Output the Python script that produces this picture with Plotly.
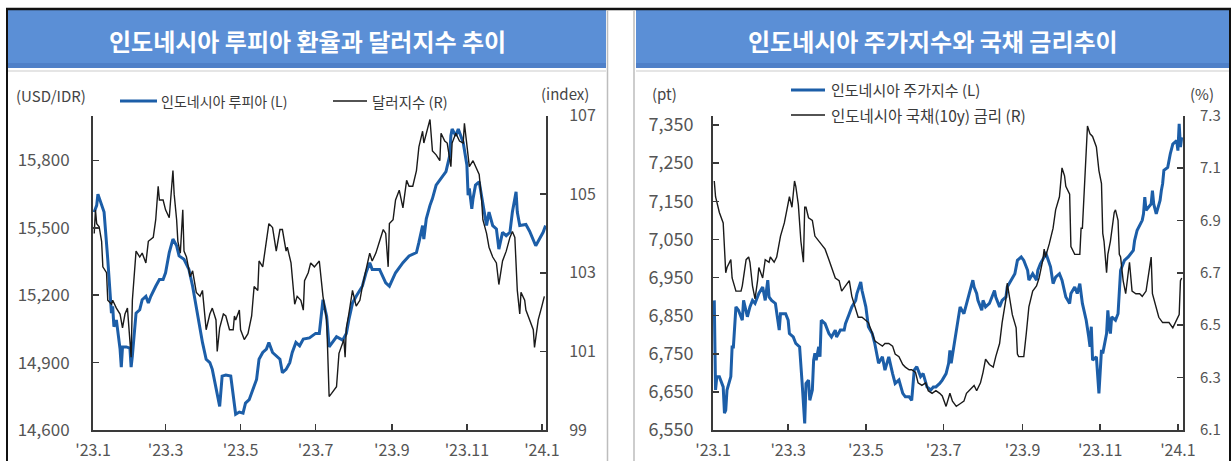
import plotly.graph_objects as go

# ---------------- data ----------------
idr_dates = ["2023-01-02","2023-01-04","2023-01-05","2023-01-08","2023-01-10","2023-01-13","2023-01-15","2023-01-16","2023-01-17","2023-01-18",
 "2023-01-20","2023-01-23","2023-01-24","2023-01-25","2023-01-28","2023-01-31","2023-02-01","2023-02-02","2023-02-05","2023-02-08",
 "2023-02-10","2023-02-13","2023-02-15","2023-02-17","2023-02-21","2023-02-24","2023-02-27","2023-03-01","2023-03-04","2023-03-07",
 "2023-03-10","2023-03-12","2023-03-16","2023-03-20","2023-03-23","2023-03-26","2023-03-29","2023-03-31","2023-04-03","2023-04-06",
 "2023-04-08","2023-04-11","2023-04-14","2023-04-16","2023-04-19","2023-04-23","2023-04-26","2023-04-27","2023-04-30","2023-05-03",
 "2023-05-05","2023-05-08","2023-05-11","2023-05-14","2023-05-16","2023-05-19","2023-05-22","2023-05-24","2023-05-27","2023-05-30",
 "2023-06-02","2023-06-04","2023-06-07","2023-06-10","2023-06-12","2023-06-15","2023-06-18","2023-06-21","2023-06-26","2023-07-01",
 "2023-07-04","2023-07-07","2023-07-10","2023-07-12","2023-07-18","2023-07-23","2023-07-26","2023-07-28","2023-07-31","2023-08-03",
 "2023-08-08","2023-08-11","2023-08-14","2023-08-16","2023-08-22","2023-08-27","2023-08-30","2023-09-04","2023-09-10","2023-09-15",
 "2023-09-21","2023-09-23","2023-09-26","2023-09-27","2023-09-29","2023-10-02","2023-10-04","2023-10-07","2023-10-12","2023-10-15",
 "2023-10-18","2023-10-19","2023-10-20","2023-10-23","2023-10-25","2023-10-26","2023-10-29","2023-11-01","2023-11-02","2023-11-03",
 "2023-11-05","2023-11-06","2023-11-08","2023-11-11","2023-11-14","2023-11-17","2023-11-19","2023-11-22","2023-11-25","2023-11-27",
 "2023-11-30","2023-12-03","2023-12-06","2023-12-08","2023-12-11","2023-12-12","2023-12-14","2023-12-19","2023-12-22","2023-12-27",
 "2023-12-30","2024-01-02","2024-01-04"]
idr_values = [15570,15600,15650,15600,15570,15360,15180,15120,15150,15060,
 15090,14960,14880,14970,14970,14965,14880,14930,15120,15135,
 15180,15195,15165,15195,15240,15270,15270,15300,15390,15450,
 15420,15375,15360,15315,15240,15150,15045,14990,14915,14900,
 14870,14795,14705,14840,14845,14840,14705,14670,14680,14675,
 14720,14735,14780,14825,14915,14945,14960,14990,14945,14930,
 14915,14855,14870,14900,14945,14990,14975,15005,15010,15030,
 15030,15180,15105,14970,15015,15000,15030,15090,15165,15195,
 15240,15300,15345,15315,15315,15255,15240,15300,15345,15375,
 15390,15435,15510,15450,15540,15600,15630,15690,15725,15750,
 15820,15910,15940,15910,15940,15925,15880,15780,15645,15675,
 15585,15630,15690,15705,15615,15510,15570,15510,15495,15405,
 15480,15465,15480,15570,15660,15570,15510,15515,15485,15420,
 15450,15480,15510]

dxy_dates = ["2023-01-02","2023-01-03","2023-01-04","2023-01-06","2023-01-08","2023-01-09","2023-01-12","2023-01-13","2023-01-16","2023-01-17",
 "2023-01-20","2023-01-23","2023-01-25","2023-01-27","2023-01-29","2023-01-31","2023-02-01","2023-02-02","2023-02-04","2023-02-05",
 "2023-02-08","2023-02-10","2023-02-13","2023-02-15","2023-02-19","2023-02-21","2023-02-23","2023-02-24","2023-02-27","2023-03-01",
 "2023-03-04","2023-03-07","2023-03-08","2023-03-10","2023-03-11","2023-03-13","2023-03-15","2023-03-16","2023-03-18","2023-03-21",
 "2023-03-23","2023-03-26","2023-03-29","2023-03-31","2023-04-03","2023-04-06","2023-04-08","2023-04-11","2023-04-12","2023-04-14",
 "2023-04-17","2023-04-19","2023-04-22","2023-04-25","2023-04-26","2023-04-27","2023-04-30","2023-05-01","2023-05-04","2023-05-07",
 "2023-05-10","2023-05-12","2023-05-15","2023-05-16","2023-05-19","2023-05-22","2023-05-24","2023-05-27","2023-05-30","2023-06-02",
 "2023-06-04","2023-06-07","2023-06-08","2023-06-11","2023-06-14","2023-06-16","2023-06-19","2023-06-21","2023-06-22","2023-06-25",
 "2023-06-27","2023-06-30","2023-07-04","2023-07-05","2023-07-07","2023-07-10","2023-07-11","2023-07-12","2023-07-14","2023-07-18",
 "2023-07-20","2023-07-24","2023-07-25","2023-07-26","2023-07-28","2023-07-31","2023-08-03","2023-08-06","2023-08-08","2023-08-11",
 "2023-08-14","2023-08-16","2023-08-19","2023-08-22","2023-08-25","2023-08-27","2023-08-29","2023-08-30","2023-09-02","2023-09-04",
 "2023-09-07","2023-09-10","2023-09-13","2023-09-15","2023-09-18","2023-09-21","2023-09-23","2023-09-26","2023-09-27","2023-10-02",
 "2023-10-04","2023-10-07","2023-10-10","2023-10-11","2023-10-14","2023-10-16","2023-10-19","2023-10-20","2023-10-23","2023-10-26",
 "2023-10-29","2023-10-30","2023-11-01","2023-11-03","2023-11-06","2023-11-08","2023-11-11","2023-11-13","2023-11-14","2023-11-17",
 "2023-11-19","2023-11-22","2023-11-25","2023-11-27","2023-11-30","2023-12-03","2023-12-06","2023-12-08","2023-12-10","2023-12-12",
 "2023-12-14","2023-12-15","2023-12-18","2023-12-19","2023-12-22","2023-12-25","2023-12-26","2023-12-29","2024-01-01","2024-01-03"]
dxy_values = [104.0,104.6,104.25,104.17,103.8,103.15,103.0,102.3,102.2,102.3,
 102.1,101.95,101.6,101.95,102.1,101.2,100.85,102.3,103.15,103.55,
 103.4,103.5,103.25,103.8,103.9,104.35,105.2,104.85,104.85,104.6,
 104.4,105.6,105.0,104.35,103.8,103.5,104.6,103.55,103.4,102.9,
 103.05,102.5,102.4,102.55,101.55,101.95,102.1,101.8,101.0,101.6,
 101.95,101.9,101.55,101.55,101.9,101.8,102.05,101.55,101.3,101.45,
 101.9,102.65,102.55,103.3,103.15,103.8,104.25,104.15,103.55,104.1,
 104.1,103.55,103.65,103.25,102.2,102.4,102.3,102.05,102.8,103.0,
 103.25,103.15,103.3,103.0,102.4,101.8,100.8,99.85,99.93,100.1,
 100.95,101.3,100.85,101.6,101.95,102.55,102.15,102.3,102.65,103.05,
 103.5,103.3,103.5,103.8,104.1,104.0,103.15,104.25,104.35,104.85,
 105.1,104.65,105.35,105.2,105.2,105.6,106.2,106.6,106.3,106.9,
 106.1,106.0,105.85,106.55,106.35,106.3,105.7,106.3,106.55,106.35,
 106.3,106.8,106.3,105.7,105.85,105.7,105.5,104.85,104.35,104.0,
 103.65,103.4,103.25,102.7,103.3,103.55,103.9,104.05,103.9,102.55,
 101.95,102.5,102.3,102.05,101.8,101.55,101.1,101.8,102.15,102.4]

jci_dates = ["2023-01-02","2023-01-03","2023-01-04","2023-01-06","2023-01-09","2023-01-10","2023-01-11","2023-01-12","2023-01-15","2023-01-16",
 "2023-01-17","2023-01-19","2023-01-21","2023-01-24","2023-01-25","2023-01-28","2023-01-30","2023-02-01","2023-02-03","2023-02-06",
 "2023-02-09","2023-02-11","2023-02-13","2023-02-14","2023-02-16","2023-02-19","2023-02-22","2023-02-23","2023-02-27","2023-03-01",
 "2023-03-02","2023-03-05","2023-03-07","2023-03-10","2023-03-12","2023-03-13","2023-03-14","2023-03-15","2023-03-17","2023-03-18",
 "2023-03-20","2023-03-21","2023-03-22","2023-03-23","2023-03-25","2023-03-26","2023-03-27","2023-03-30","2023-04-02","2023-04-04",
 "2023-04-07","2023-04-08","2023-04-11","2023-04-14","2023-04-15","2023-04-18","2023-04-20","2023-04-23","2023-04-24","2023-04-27",
 "2023-04-28","2023-05-01","2023-05-03","2023-05-06","2023-05-08","2023-05-11","2023-05-14","2023-05-16","2023-05-19","2023-05-22",
 "2023-05-24","2023-05-27","2023-05-30","2023-06-01","2023-06-04","2023-06-06","2023-06-08","2023-06-10","2023-06-13","2023-06-15",
 "2023-06-18","2023-06-21","2023-06-23","2023-06-25","2023-06-28","2023-06-30","2023-07-03","2023-07-05","2023-07-06","2023-07-07",
 "2023-07-09","2023-07-11","2023-07-13","2023-07-14","2023-07-17","2023-07-19","2023-07-21","2023-07-24","2023-07-25","2023-07-27",
 "2023-07-28","2023-07-31","2023-08-01","2023-08-03","2023-08-06","2023-08-08","2023-08-10","2023-08-11","2023-08-14","2023-08-16",
 "2023-08-19","2023-08-20","2023-08-23","2023-08-26","2023-08-28","2023-08-31","2023-09-02","2023-09-05","2023-09-06","2023-09-09",
 "2023-09-12","2023-09-13","2023-09-15","2023-09-18","2023-09-19","2023-09-21","2023-09-23","2023-09-25","2023-09-27","2023-09-30",
 "2023-10-02","2023-10-05","2023-10-08","2023-10-09","2023-10-12","2023-10-14","2023-10-16","2023-10-18","2023-10-21","2023-10-23",
 "2023-10-24","2023-10-25","2023-10-26","2023-10-29","2023-10-30","2023-10-31","2023-11-02","2023-11-03","2023-11-06","2023-11-07",
 "2023-11-08","2023-11-09","2023-11-10","2023-11-13","2023-11-15","2023-11-16","2023-11-17","2023-11-20","2023-11-23","2023-11-27",
 "2023-11-28","2023-11-30","2023-12-04","2023-12-05","2023-12-06","2023-12-07","2023-12-11","2023-12-12","2023-12-13","2023-12-15",
 "2023-12-18","2023-12-19","2023-12-20","2023-12-21","2023-12-24","2023-12-26","2023-12-28","2023-12-31","2024-01-01","2024-01-02",
 "2024-01-03","2024-01-04"]
jci_values = [6890,6655,6690,6690,6663,6594,6602,6655,6690,6768,
 6768,6873,6864,6838,6890,6847,6873,6890,6882,6908,
 6925,6890,6943,6899,6890,6882,6812,6855,6855,6838,
 6803,6794,6777,6768,6672,6611,6567,6672,6681,6628,
 6655,6733,6751,6733,6768,6742,6838,6829,6803,6794,
 6812,6794,6812,6812,6829,6855,6873,6890,6908,6938,
 6916,6873,6821,6803,6777,6725,6742,6707,6742,6698,
 6672,6681,6646,6637,6637,6628,6707,6716,6690,6698,
 6663,6655,6663,6663,6672,6681,6698,6725,6759,6725,
 6768,6812,6855,6873,6855,6882,6908,6943,6925,6908,
 6890,6864,6890,6873,6882,6899,6916,6899,6873,6890,
 6899,6925,6943,6960,6995,7004,6995,6969,6943,6960,
 6943,6969,6986,7004,7017,6995,6978,6934,6951,6960,
 6943,6899,6882,6908,6925,6908,6934,6882,6838,6794,
 6768,6821,6733,6742,6690,6646,6760,6751,6803,6864,
 6821,6803,6847,6838,6855,6908,6969,6995,7004,7021,
 7047,7074,7100,7117,7161,7126,7143,7178,7143,7117,
 7152,7178,7196,7231,7239,7274,7300,7309,7283,7353,
 7292,7318]

yld_dates = ["2023-01-02","2023-01-03","2023-01-06","2023-01-09","2023-01-11","2023-01-12","2023-01-15","2023-01-16","2023-01-19","2023-01-23",
 "2023-01-24","2023-01-27","2023-01-29","2023-01-30","2023-02-01","2023-02-03","2023-02-05","2023-02-06","2023-02-09","2023-02-11",
 "2023-02-14","2023-02-15","2023-02-18","2023-02-20","2023-02-23","2023-02-26","2023-02-28","2023-03-02","2023-03-04","2023-03-06",
 "2023-03-07","2023-03-09","2023-03-11","2023-03-13","2023-03-14","2023-03-15","2023-03-17","2023-03-20","2023-03-22","2023-03-25",
 "2023-03-27","2023-03-30","2023-04-02","2023-04-04","2023-04-07","2023-04-10","2023-04-12","2023-04-15","2023-04-18","2023-04-20",
 "2023-04-23","2023-04-25","2023-04-28","2023-05-01","2023-05-03","2023-05-06","2023-05-08","2023-05-11","2023-05-14","2023-05-16",
 "2023-05-19","2023-05-22","2023-05-24","2023-05-27","2023-05-30","2023-06-01","2023-06-04","2023-06-06","2023-06-09","2023-06-11",
 "2023-06-14","2023-06-17","2023-06-19","2023-06-22","2023-06-25","2023-06-28","2023-06-30","2023-07-03","2023-07-06","2023-07-08",
 "2023-07-11","2023-07-14","2023-07-17","2023-07-19","2023-07-21","2023-07-25","2023-07-27","2023-07-30","2023-08-01","2023-08-03",
 "2023-08-06","2023-08-09","2023-08-11","2023-08-14","2023-08-16","2023-08-19","2023-08-20","2023-08-22","2023-08-24","2023-08-27",
 "2023-08-28","2023-08-29","2023-09-02","2023-09-04","2023-09-06","2023-09-09","2023-09-12","2023-09-14","2023-09-17","2023-09-18",
 "2023-09-19","2023-09-22","2023-09-25","2023-09-27","2023-09-30","2023-10-02","2023-10-04","2023-10-05","2023-10-08","2023-10-09",
 "2023-10-12","2023-10-16","2023-10-17","2023-10-18","2023-10-20","2023-10-22","2023-10-24","2023-10-26","2023-10-29","2023-10-31",
 "2023-11-02","2023-11-03","2023-11-04","2023-11-06","2023-11-07","2023-11-09","2023-11-12","2023-11-13","2023-11-15","2023-11-16",
 "2023-11-17","2023-11-19","2023-11-21","2023-11-24","2023-11-26","2023-11-29","2023-12-02","2023-12-04","2023-12-07","2023-12-11",
 "2023-12-12","2023-12-15","2023-12-17","2023-12-20","2023-12-23","2023-12-25","2023-12-28","2023-12-30","2024-01-02","2024-01-03",
 "2024-01-04"]
yld_values = [7.05,6.99,6.93,6.89,6.70,6.72,6.75,6.68,6.63,6.63,
 6.65,6.75,6.76,6.74,6.65,6.60,6.67,6.72,6.68,6.75,
 6.74,6.76,6.74,6.76,6.84,6.89,6.94,6.99,6.95,7.05,
 7.03,6.96,6.82,6.74,6.95,6.95,6.91,6.90,6.84,6.82,
 6.81,6.79,6.75,6.72,6.68,6.67,6.63,6.65,6.67,6.61,
 6.56,6.53,6.53,6.52,6.51,6.47,6.44,6.43,6.42,6.43,
 6.43,6.42,6.39,6.38,6.35,6.34,6.33,6.33,6.32,6.28,
 6.27,6.28,6.25,6.24,6.25,6.24,6.23,6.19,6.24,6.21,
 6.19,6.20,6.21,6.24,6.25,6.27,6.25,6.28,6.32,6.37,
 6.35,6.34,6.38,6.43,6.51,6.60,6.66,6.60,6.54,6.49,
 6.39,6.38,6.38,6.47,6.57,6.63,6.65,6.68,6.75,6.79,
 6.76,6.81,6.87,6.94,6.99,7.10,7.07,7.03,7.00,6.80,
 6.77,6.77,6.87,6.87,7.09,7.26,7.23,7.22,7.18,7.09,
 7.04,6.85,6.82,6.70,6.77,6.82,6.93,6.94,6.90,6.77,
 6.76,6.67,6.62,6.74,6.63,6.62,6.62,6.61,6.63,6.76,
 6.62,6.57,6.53,6.51,6.51,6.51,6.49,6.51,6.54,6.67,
 6.68]

x_tickvals = ["2023-01-01","2023-03-01","2023-05-01","2023-07-01","2023-09-01","2023-11-01","2024-01-01"]
x_ticktext = ["'23.1","'23.3","'23.5","'23.7","'23.9","'23.11","'24.1"]
idr_ticks = [14600,14900,15200,15500,15800]
dxy_ticks = [99,101,103,105,107]
jci_ticks = [6550,6650,6750,6850,6950,7050,7150,7250,7350]
yld_ticks = [6.1,6.3,6.5,6.7,6.9,7.1,7.3]

title_left = "인도네시아 루피아 환율과 달러지수 추이"
title_right = "인도네시아 주가지수와 국채 금리추이"
legend_left = ["인도네시아 루피아 (L)", "달러지수 (R)"]
legend_right = ["인도네시아 주가지수 (L)", "인도네시아 국채(10y) 금리 (R)"]

# ---------------- style ----------------
W, H = 1232, 461
FONT = "Noto Sans CJK KR"
BLUE = "#1c5ea8"
BLACK = "#1a1a1a"
AXC = "#3a3a3a"
TXT = "#555555"
BANNER = "#5b8fd6"

def fx(px):
    return px / W

def fy(py):
    return 1 - py / H

fig = go.Figure()
fig.add_trace(go.Scatter(x=idr_dates, y=idr_values, mode="lines", line=dict(color=BLUE, width=3),
                         xaxis="x", yaxis="y", hoverinfo="skip"))
fig.add_trace(go.Scatter(x=dxy_dates, y=dxy_values, mode="lines", line=dict(color=BLACK, width=1.4),
                         xaxis="x", yaxis="y2", hoverinfo="skip"))
fig.add_trace(go.Scatter(x=yld_dates, y=yld_values, mode="lines", line=dict(color=BLACK, width=1.4),
                         xaxis="x2", yaxis="y4", hoverinfo="skip"))
fig.add_trace(go.Scatter(x=jci_dates, y=jci_values, mode="lines", line=dict(color=BLUE, width=3),
                         xaxis="x2", yaxis="y3", hoverinfo="skip"))

ydom = [fy(430), fy(115.5)]
common = dict(showgrid=False, zeroline=False, showline=True, linecolor=AXC, linewidth=2,
              ticks="inside", ticklen=6, tickwidth=1.5, tickcolor=AXC, automargin=False)

xcommon = dict(common, type="date", tickvals=x_tickvals, ticktext=x_ticktext,
               tickfont=dict(size=16, color=TXT, family=FONT), ticklabelstandoff=5)

fig.update_layout(
    width=W, height=H, autosize=False,
    margin=dict(l=0, r=0, t=0, b=0, pad=0, autoexpand=False),
    paper_bgcolor="white", plot_bgcolor="rgba(0,0,0,0)", showlegend=False,
    font=dict(family=FONT, color=TXT),
    xaxis=dict(xcommon, domain=[fx(93), fx(546)], anchor="y",
               range=["2023-01-01", "2024-01-04 08:00"]),
    yaxis=dict(common, domain=ydom, anchor="x", range=[14600, 16000], tickvals=idr_ticks,
               tickformat=",", tickfont=dict(size=17, color=TXT, family=FONT), ticklabelstandoff=18),
    yaxis2=dict(common, overlaying="y", side="right", anchor="x", range=[99, 107], tickvals=dxy_ticks,
                tickfont=dict(size=16, color=TXT, family=FONT), ticklabelstandoff=18),
    xaxis2=dict(xcommon, domain=[fx(713), fx(1183)], anchor="y3",
                range=["2023-01-01", "2024-01-05"]),
    yaxis3=dict(common, domain=ydom, anchor="x2", range=[6550, 7375], tickvals=jci_ticks,
                tickformat=",", tickfont=dict(size=18, color=TXT, family=FONT), ticklabelstandoff=14),
    yaxis4=dict(common, overlaying="y3", side="right", anchor="x2", range=[6.1, 7.3], tickvals=yld_ticks,
                tickformat=".1f", tickfont=dict(size=15, color=TXT, family=FONT), ticklabelstandoff=12),
)

shapes = []
# banners
for x0, x1 in [(8, 606), (636, 1229)]:
    shapes.append(dict(type="rect", xref="paper", yref="paper", x0=fx(x0), x1=fx(x1), y0=fy(68), y1=fy(10),
                       fillcolor=BANNER, line=dict(width=0), layer="below"))
    shapes.append(dict(type="rect", xref="paper", yref="paper", x0=fx(x0), x1=fx(x1), y0=fy(68), y1=fy(63),
                       fillcolor="#4f80c8", line=dict(width=0), layer="below"))
    shapes.append(dict(type="line", xref="paper", yref="paper", x0=fx(x0), x1=fx(x1), y0=fy(71), y1=fy(71),
                       line=dict(color="#dcdcdc", width=1.5), layer="below"))
# frame
shapes.append(dict(type="line", xref="paper", yref="paper", x0=fx(6), x1=fx(1231), y0=fy(9), y1=fy(9),
                   line=dict(color="#111", width=2.5)))
shapes.append(dict(type="line", xref="paper", yref="paper", x0=fx(7), x1=fx(7), y0=fy(9), y1=0,
                   line=dict(color="#111", width=2)))
shapes.append(dict(type="line", xref="paper", yref="paper", x0=fx(1230), x1=fx(1230), y0=fy(9), y1=0,
                   line=dict(color="#111", width=2)))
for xv in (607.5, 634):
    shapes.append(dict(type="line", xref="paper", yref="paper", x0=fx(xv), x1=fx(xv), y0=fy(10), y1=0,
                       line=dict(color="#bdbdbd", width=1.5)))
# legend keys
shapes.append(dict(type="line", xref="paper", yref="paper", x0=fx(120), x1=fx(157), y0=fy(101), y1=fy(101),
                   line=dict(color=BLUE, width=3)))
shapes.append(dict(type="line", xref="paper", yref="paper", x0=fx(333), x1=fx(367), y0=fy(101), y1=fy(101),
                   line=dict(color=BLACK, width=1.5)))
shapes.append(dict(type="line", xref="paper", yref="paper", x0=fx(791), x1=fx(825), y0=fy(90), y1=fy(90),
                   line=dict(color=BLUE, width=3)))
shapes.append(dict(type="line", xref="paper", yref="paper", x0=fx(791), x1=fx(825), y0=fy(115), y1=fy(115),
                   line=dict(color=BLACK, width=1.5)))

ann = []
def text(x, y, s, size, color, xanchor="left", bold=False):
    ann.append(dict(xref="paper", yref="paper", x=fx(x), y=fy(y), text=(f"<b>{s}</b>" if bold else s),
                    showarrow=False, xanchor=xanchor, yanchor="middle",
                    font=dict(family=FONT, size=size, color=color)))

text(307, 40, title_left, 24, "white", "center", bold=True)
text(933, 40, title_right, 24, "white", "center", bold=True)
text(14, 96, "(USD/IDR)", 15, "#444")
text(591, 94, "(index)", 15, "#444", "right")
text(650, 94, "(pt)", 15, "#444")
text(1216, 94, "(%)", 15, "#444", "right")
text(159, 101, legend_left[0], 14, "#3a3a3a")
text(370, 101, legend_left[1], 14.5, "#3a3a3a")
text(829, 90, legend_right[0], 15, "#3a3a3a")
text(829, 115, legend_right[1], 15.5, "#3a3a3a")

fig.update_layout(shapes=shapes, annotations=ann)
fig.write_html("out.html",
               config={"displayModeBar": False, "staticPlot": True},
               post_script="document.body.style.margin='0px';document.body.style.padding='0px';"
                           "document.documentElement.style.overflow='hidden';")
